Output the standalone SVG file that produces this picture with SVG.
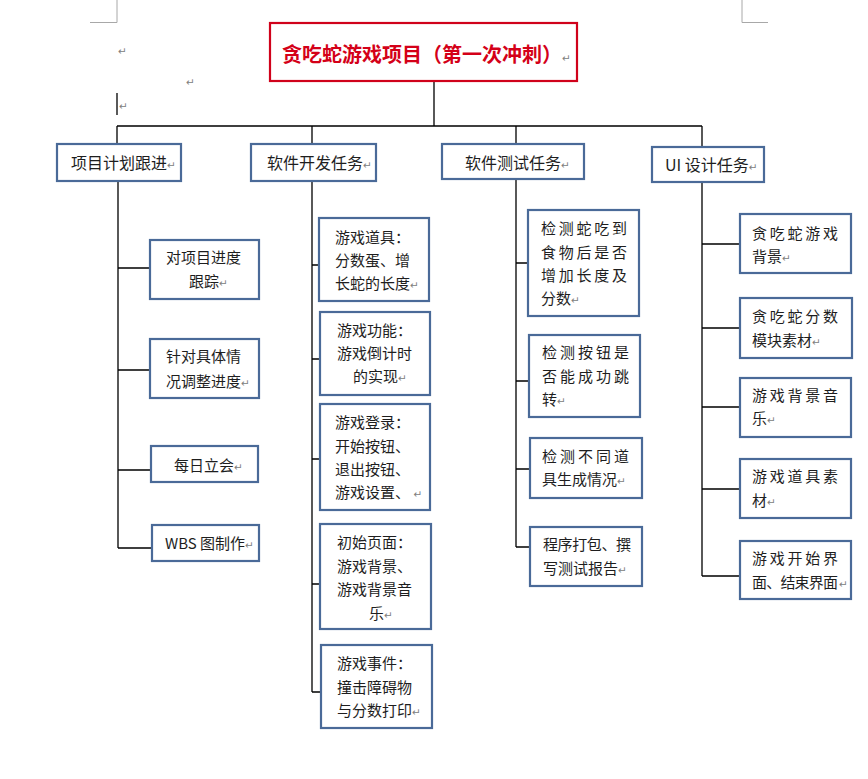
<svg xmlns="http://www.w3.org/2000/svg" width="868" height="779" viewBox="0 0 868 779">
<style>
text{font-family:"Noto Sans CJK SC","Liberation Sans",sans-serif;fill:#1e1e1e}
.t{font-size:15px}
.h{font-size:16px}
.title{font-size:20px;font-weight:bold;fill:#d40018}
.pm{font-family:"DejaVu Sans",sans-serif;font-size:10.5px;fill:#808080;font-weight:normal}
.box{fill:#fff;stroke:#4a6a98;stroke-width:2.2}
.root{fill:#fff;stroke:#d0021b;stroke-width:2.2}
.ln{stroke:#000;stroke-width:1.3;fill:none}
.mark{stroke:#a8a8a8;stroke-width:1;fill:none}
</style>
<rect width="868" height="779" fill="#fff"/>
<g id="page-marks">
<path class="mark" d="M117 0V22.5H90M742 0V22.5H768"/>
<path d="M117 93V115" stroke="#000" stroke-width="1.3"/>
<text class="pm" x="118" y="55">↵</text>
<text class="pm" x="186" y="86">↵</text>
<text class="pm" x="119" y="110">↵</text>
</g>
<g id="connectors">
<path class="ln" d="M434 82V126M117 126H702M117 126V144M312 126V144M516 126V144M702 126V147"/>
<path class="ln" d="M118 181V548M118 268H150M118 370H150M118 470H151M118 548H152"/>
<path class="ln" d="M312 181V692M312 265H319M312 359H320M312 459H320M312 584H320M312 692H321"/>
<path class="ln" d="M516 179V547M516 263H528M516 381H529M516 469H530M516 547H530"/>
<path class="ln" d="M702 182V576M702 244H740M702 328H740M702 407H740M702 489H740M702 576H740"/>
</g>
<g id="root">
<rect class="root" x="270" y="23" width="307" height="58"/>
<text class="title" x="282" y="61.5">贪吃蛇游戏项目（第一次冲刺）<tspan class="pm">↵</tspan></text>
</g>
<g id="n-plan">
<rect class="box" x="57" y="144" width="124" height="37"/>
<text class="h" x="71" y="169">项目计划跟进<tspan class="pm">↵</tspan></text>
</g>
<g id="n-dev">
<rect class="box" x="251" y="144" width="125" height="37"/>
<text class="h" x="267" y="169">软件开发任务<tspan class="pm">↵</tspan></text>
</g>
<g id="n-test">
<rect class="box" x="442" y="144" width="142" height="35"/>
<text class="h" x="465" y="169">软件测试任务<tspan class="pm">↵</tspan></text>
</g>
<g id="n-ui">
<rect class="box" x="652" y="147" width="112" height="35"/>
<text class="h" x="665" y="171">UI 设计任务<tspan class="pm">↵</tspan></text>
</g>
<g id="c1a">
<rect class="box" x="150" y="240" width="109" height="59"/>
<text class="t" x="166" y="262.5">对项目进度</text>
<text class="t" x="189" y="286.5">跟踪<tspan class="pm">↵</tspan></text>
</g>
<g id="c1b">
<rect class="box" x="150" y="339" width="109" height="59"/>
<text class="t" x="166" y="361.5">针对具体情</text>
<text class="t" x="166" y="386.5">况调整进度<tspan class="pm">↵</tspan></text>
</g>
<g id="c1c">
<rect class="box" x="151" y="446" width="107" height="36"/>
<text class="t" x="174" y="470.5">每日立会<tspan class="pm">↵</tspan></text>
</g>
<g id="c1d">
<rect class="box" x="152" y="525" width="107" height="36"/>
<text class="t" x="165" y="548.5">WBS 图制作<tspan class="pm">↵</tspan></text>
</g>
<g id="c2a">
<rect class="box" x="319" y="218" width="110" height="83"/>
<text class="t" x="335" y="242.5">游戏道具：</text>
<text class="t" x="335" y="265.5">分数蛋、增</text>
<text class="t" x="335" y="288.5">长蛇的长度<tspan class="pm">↵</tspan></text>
</g>
<g id="c2b">
<rect class="box" x="320" y="312" width="110" height="83"/>
<text class="t" x="337" y="335.5">游戏功能：</text>
<text class="t" x="337" y="358.5">游戏倒计时</text>
<text class="t" x="353" y="381.5">的实现<tspan class="pm">↵</tspan></text>
</g>
<g id="c2c">
<rect class="box" x="320" y="404" width="110" height="106"/>
<text class="t" x="335" y="427.5">游戏登录：</text>
<text class="t" x="335" y="451.5">开始按钮、</text>
<text class="t" x="335" y="474.5">退出按钮、</text>
<text class="t" x="335" y="497.5">游戏设置、 <tspan class="pm">↵</tspan></text>
</g>
<g id="c2d">
<rect class="box" x="320" y="524" width="111" height="105"/>
<text class="t" x="337" y="547.5">初始页面：</text>
<text class="t" x="337" y="571.5">游戏背景、</text>
<text class="t" x="337" y="594.5">游戏背景音</text>
<text class="t" x="369" y="618.5">乐<tspan class="pm">↵</tspan></text>
</g>
<g id="c2e">
<rect class="box" x="321" y="645" width="111" height="83"/>
<text class="t" x="337" y="668.5">游戏事件：</text>
<text class="t" x="337" y="692.5">撞击障碍物</text>
<text class="t" x="337" y="715.5">与分数打印<tspan class="pm">↵</tspan></text>
</g>
<g id="c3a">
<rect class="box" x="528" y="210" width="111" height="106"/>
<text class="t" x="541" y="233.5" textLength="86" lengthAdjust="spacing">检测蛇吃到</text>
<text class="t" x="541" y="257.5" textLength="86" lengthAdjust="spacing">食物后是否</text>
<text class="t" x="541" y="280.5" textLength="86" lengthAdjust="spacing">增加长度及</text>
<text class="t" x="541" y="303.5">分数<tspan class="pm">↵</tspan></text>
</g>
<g id="c3b">
<rect class="box" x="529" y="335" width="111" height="82"/>
<text class="t" x="542" y="357.5" textLength="87" lengthAdjust="spacing">检测按钮是</text>
<text class="t" x="542" y="381.5" textLength="87" lengthAdjust="spacing">否能成功跳</text>
<text class="t" x="542" y="404.5">转<tspan class="pm">↵</tspan></text>
</g>
<g id="c3c">
<rect class="box" x="530" y="438" width="112" height="60"/>
<text class="t" x="542" y="461.5" textLength="87" lengthAdjust="spacing">检测不同道</text>
<text class="t" x="542" y="484.5">具生成情况<tspan class="pm">↵</tspan></text>
</g>
<g id="c3d">
<rect class="box" x="530" y="527" width="112" height="59"/>
<text class="t" x="543" y="549.5" textLength="88" lengthAdjust="spacing">程序打包、撰</text>
<text class="t" x="543" y="573.5">写测试报告<tspan class="pm">↵</tspan></text>
</g>
<g id="c4a">
<rect class="box" x="740" y="214" width="111" height="59"/>
<text class="t" x="752" y="238.5" textLength="86" lengthAdjust="spacing">贪吃蛇游戏</text>
<text class="t" x="752" y="261.5">背景<tspan class="pm">↵</tspan></text>
</g>
<g id="c4b">
<rect class="box" x="740" y="298" width="112" height="60"/>
<text class="t" x="752" y="321.5" textLength="86" lengthAdjust="spacing">贪吃蛇分数</text>
<text class="t" x="752" y="345.5">模块素材<tspan class="pm">↵</tspan></text>
</g>
<g id="c4c">
<rect class="box" x="740" y="378" width="111" height="59"/>
<text class="t" x="752" y="400.5" textLength="86" lengthAdjust="spacing">游戏背景音</text>
<text class="t" x="752" y="423.5">乐<tspan class="pm">↵</tspan></text>
</g>
<g id="c4d">
<rect class="box" x="740" y="459" width="111" height="59"/>
<text class="t" x="752" y="481.5" textLength="86" lengthAdjust="spacing">游戏道具素</text>
<text class="t" x="752" y="505.5">材<tspan class="pm">↵</tspan></text>
</g>
<g id="c4e">
<rect class="box" x="740" y="541" width="111" height="58"/>
<text class="t" x="752" y="563.5" textLength="86" lengthAdjust="spacing">游戏开始界</text>
<text class="t" x="752" y="587.5" textLength="86" lengthAdjust="spacing">面、结束界面</text>
<text class="pm" x="839" y="587.5">↵</text>
</g>
</svg>
